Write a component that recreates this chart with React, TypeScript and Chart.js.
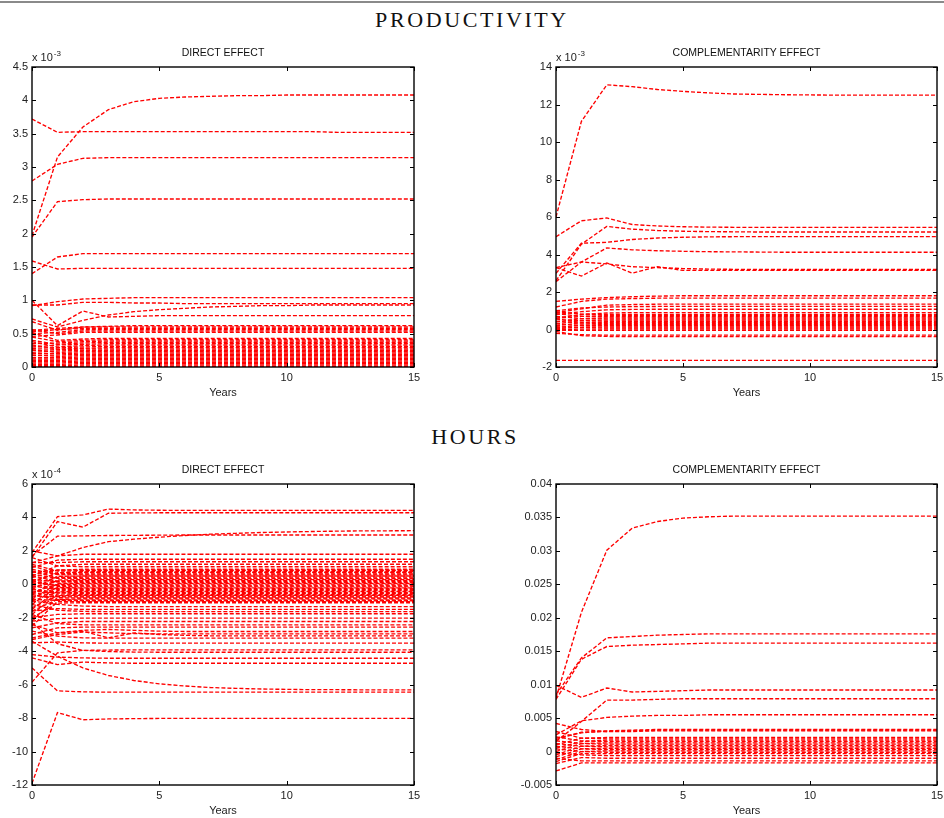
import React, { useEffect, useRef } from 'react';
import { Chart, registerables } from 'chart.js';
Chart.register(...registerables);

const years = [0, 1, 2, 3, 4, 5, 6, 7, 8, 9, 10, 11, 12, 13, 14, 15];

// PRODUCTIVITY – direct effect (x 10^-3)
const prodDirect: number[][] = [
  [1.97,3.15,3.60,3.86,3.98,4.03,4.05,4.06,4.07,4.07,4.08,4.08,4.08,4.08,4.08,4.08],
  [3.72,3.52,3.53,3.53,3.53,3.53,3.53,3.53,3.53,3.53,3.53,3.53,3.52,3.52,3.52,3.52],
  [2.79,3.04,3.13,3.14,3.14,3.14,3.14,3.14,3.14,3.14,3.14,3.14,3.14,3.14,3.14,3.14],
  [1.95,2.48,2.51,2.52,2.52,2.52,2.52,2.52,2.52,2.52,2.52,2.52,2.52,2.52,2.52,2.52],
  [1.59,1.47,1.48,1.48,1.48,1.48,1.48,1.48,1.48,1.48,1.48,1.48,1.48,1.48,1.48,1.48],
  [1.40,1.65,1.70,1.70,1.70,1.70,1.70,1.70,1.70,1.70,1.70,1.70,1.70,1.70,1.70,1.70],
  [0.92,0.98,1.02,1.03,1.04,1.04,1.04,1.04,1.04,1.04,1.04,1.04,1.04,1.04,1.04,1.04],
  [0.93,0.93,0.97,0.97,0.96,0.96,0.95,0.95,0.95,0.95,0.95,0.95,0.95,0.95,0.95,0.95],
  [0.72,0.60,0.70,0.78,0.83,0.86,0.88,0.90,0.91,0.92,0.92,0.93,0.93,0.93,0.93,0.93],
  [1.00,0.62,0.84,0.75,0.76,0.77,0.77,0.77,0.77,0.77,0.77,0.77,0.77,0.77,0.77,0.77],
  [0.68,0.55,0.60,0.61,0.62,0.62,0.62,0.62,0.62,0.62,0.62,0.62,0.62,0.62,0.62,0.62],
  [0.55,0.58,0.60,0.60,0.60,0.60,0.60,0.60,0.60,0.60,0.60,0.60,0.60,0.60,0.60,0.60],
  [0.53,0.56,0.58,0.58,0.58,0.58,0.58,0.58,0.58,0.58,0.58,0.58,0.58,0.58,0.58,0.58],
  [0.50,0.52,0.56,0.56,0.56,0.56,0.56,0.56,0.56,0.56,0.56,0.56,0.56,0.56,0.56,0.56],
  [0.56,0.50,0.54,0.54,0.54,0.54,0.54,0.54,0.54,0.54,0.54,0.54,0.54,0.54,0.54,0.54],
  [0.46,0.48,0.52,0.52,0.52,0.52,0.52,0.52,0.52,0.52,0.52,0.52,0.52,0.52,0.52,0.52],
  [0.52,0.40,0.42,0.43,0.43,0.43,0.43,0.43,0.43,0.43,0.43,0.43,0.43,0.43,0.43,0.43],
  [0.45,0.38,0.40,0.41,0.41,0.41,0.41,0.41,0.41,0.41,0.41,0.41,0.41,0.41,0.41,0.41],
  [0.35,0.36,0.38,0.39,0.39,0.39,0.39,0.39,0.39,0.39,0.39,0.39,0.39,0.39,0.39,0.39],
  [0.40,0.34,0.36,0.37,0.37,0.37,0.37,0.37,0.37,0.37,0.37,0.37,0.37,0.37,0.37,0.37],
  [0.30,0.33,0.34,0.35,0.35,0.35,0.35,0.35,0.35,0.35,0.35,0.35,0.35,0.35,0.35,0.35],
  [0.38,0.30,0.32,0.33,0.33,0.33,0.33,0.33,0.33,0.33,0.33,0.33,0.33,0.33,0.33,0.33],
  [0.28,0.29,0.30,0.31,0.31,0.31,0.31,0.31,0.31,0.31,0.31,0.31,0.31,0.31,0.31,0.31],
  [0.33,0.27,0.28,0.29,0.29,0.29,0.29,0.29,0.29,0.29,0.29,0.29,0.29,0.29,0.29,0.29],
  [0.25,0.26,0.27,0.27,0.27,0.27,0.27,0.27,0.27,0.27,0.27,0.27,0.27,0.27,0.27,0.27],
  [0.22,0.24,0.25,0.25,0.25,0.25,0.25,0.25,0.25,0.25,0.25,0.25,0.25,0.25,0.25,0.25],
  [0.26,0.22,0.23,0.23,0.23,0.23,0.23,0.23,0.23,0.23,0.23,0.23,0.23,0.23,0.23,0.23],
  [0.20,0.20,0.21,0.21,0.21,0.21,0.21,0.21,0.21,0.21,0.21,0.21,0.21,0.21,0.21,0.21],
  [0.17,0.18,0.19,0.19,0.19,0.19,0.19,0.19,0.19,0.19,0.19,0.19,0.19,0.19,0.19,0.19],
  [0.18,0.16,0.17,0.17,0.17,0.17,0.17,0.17,0.17,0.17,0.17,0.17,0.17,0.17,0.17,0.17],
  [0.14,0.14,0.15,0.15,0.15,0.15,0.15,0.15,0.15,0.15,0.15,0.15,0.15,0.15,0.15,0.15],
  [0.12,0.12,0.13,0.13,0.13,0.13,0.13,0.13,0.13,0.13,0.13,0.13,0.13,0.13,0.13,0.13],
  [0.10,0.10,0.11,0.11,0.11,0.11,0.11,0.11,0.11,0.11,0.11,0.11,0.11,0.11,0.11,0.11],
  [0.08,0.08,0.09,0.09,0.09,0.09,0.09,0.09,0.09,0.09,0.09,0.09,0.09,0.09,0.09,0.09],
  [0.06,0.06,0.07,0.07,0.07,0.07,0.07,0.07,0.07,0.07,0.07,0.07,0.07,0.07,0.07,0.07],
  [0.04,0.04,0.05,0.05,0.05,0.05,0.05,0.05,0.05,0.05,0.05,0.05,0.05,0.05,0.05,0.05],
  [0.02,0.02,0.03,0.03,0.03,0.03,0.03,0.03,0.03,0.03,0.03,0.03,0.03,0.03,0.03,0.03],
  [0.01,0.01,0.01,0.01,0.01,0.01,0.01,0.01,0.01,0.01,0.01,0.01,0.01,0.01,0.01,0.01],
];

// PRODUCTIVITY – complementarity effect (x 10^-3)
const prodCompl: number[][] = [
  [6.00,11.10,13.05,12.95,12.80,12.70,12.62,12.56,12.54,12.52,12.51,12.50,12.50,12.50,12.50,12.50],
  [4.95,5.80,5.95,5.60,5.52,5.48,5.46,5.45,5.45,5.45,5.45,5.45,5.45,5.45,5.45,5.45],
  [2.60,4.55,5.50,5.35,5.28,5.24,5.22,5.21,5.20,5.20,5.20,5.20,5.20,5.20,5.20,5.20],
  [3.00,4.60,4.65,4.80,4.88,4.92,4.94,4.95,4.95,4.95,4.95,4.95,4.95,4.95,4.95,4.95],
  [3.30,3.60,4.35,4.25,4.20,4.17,4.15,4.14,4.13,4.12,4.12,4.12,4.12,4.12,4.12,4.12],
  [3.30,2.85,3.55,3.00,3.35,3.15,3.15,3.15,3.15,3.15,3.15,3.15,3.15,3.15,3.15,3.15],
  [2.55,3.60,3.50,3.35,3.30,3.25,3.22,3.21,3.20,3.20,3.20,3.20,3.20,3.20,3.20,3.20],
  [1.50,1.62,1.70,1.75,1.78,1.80,1.80,1.80,1.80,1.80,1.80,1.80,1.80,1.80,1.80,1.80],
  [1.20,1.50,1.62,1.65,1.67,1.67,1.67,1.67,1.67,1.67,1.67,1.67,1.67,1.67,1.67,1.67],
  [0.90,1.10,1.30,1.33,1.35,1.35,1.35,1.35,1.35,1.35,1.35,1.35,1.35,1.35,1.35,1.35],
  [1.00,1.15,1.20,1.22,1.23,1.23,1.23,1.23,1.23,1.23,1.23,1.23,1.23,1.23,1.23,1.23],
  [0.80,0.95,1.05,1.07,1.08,1.08,1.08,1.08,1.08,1.08,1.08,1.08,1.08,1.08,1.08,1.08],
  [0.60,0.80,0.88,0.90,0.90,0.90,0.90,0.90,0.90,0.90,0.90,0.90,0.90,0.90,0.90,0.90],
  [0.95,0.82,0.80,0.80,0.80,0.80,0.80,0.80,0.80,0.80,0.80,0.80,0.80,0.80,0.80,0.80],
  [0.60,0.70,0.74,0.74,0.74,0.74,0.74,0.74,0.74,0.74,0.74,0.74,0.74,0.74,0.74,0.74],
  [0.85,0.70,0.68,0.68,0.68,0.68,0.68,0.68,0.68,0.68,0.68,0.68,0.68,0.68,0.68,0.68],
  [0.40,0.58,0.62,0.62,0.62,0.62,0.62,0.62,0.62,0.62,0.62,0.62,0.62,0.62,0.62,0.62],
  [0.70,0.58,0.56,0.56,0.56,0.56,0.56,0.56,0.56,0.56,0.56,0.56,0.56,0.56,0.56,0.56],
  [0.30,0.48,0.50,0.50,0.50,0.50,0.50,0.50,0.50,0.50,0.50,0.50,0.50,0.50,0.50,0.50],
  [0.55,0.46,0.44,0.44,0.44,0.44,0.44,0.44,0.44,0.44,0.44,0.44,0.44,0.44,0.44,0.44],
  [0.20,0.36,0.38,0.38,0.38,0.38,0.38,0.38,0.38,0.38,0.38,0.38,0.38,0.38,0.38,0.38],
  [0.45,0.34,0.32,0.32,0.32,0.32,0.32,0.32,0.32,0.32,0.32,0.32,0.32,0.32,0.32,0.32],
  [0.10,0.24,0.26,0.26,0.26,0.26,0.26,0.26,0.26,0.26,0.26,0.26,0.26,0.26,0.26,0.26],
  [0.30,0.22,0.20,0.20,0.20,0.20,0.20,0.20,0.20,0.20,0.20,0.20,0.20,0.20,0.20,0.20],
  [0.05,0.13,0.14,0.14,0.14,0.14,0.14,0.14,0.14,0.14,0.14,0.14,0.14,0.14,0.14,0.14],
  [0.15,0.10,0.08,0.08,0.08,0.08,0.08,0.08,0.08,0.08,0.08,0.08,0.08,0.08,0.08,0.08],
  [0.00,0.02,0.02,0.02,0.02,0.02,0.02,0.02,0.02,0.02,0.02,0.02,0.02,0.02,0.02,0.02],
  [-0.05,-0.05,-0.05,-0.05,-0.05,-0.05,-0.05,-0.05,-0.05,-0.05,-0.05,-0.05,-0.05,-0.05,-0.05,-0.05],
  [-0.20,-0.28,-0.30,-0.30,-0.30,-0.30,-0.30,-0.30,-0.30,-0.30,-0.30,-0.30,-0.30,-0.30,-0.30,-0.30],
  [-0.10,-0.33,-0.37,-0.38,-0.38,-0.38,-0.38,-0.38,-0.38,-0.38,-0.38,-0.38,-0.38,-0.38,-0.38,-0.38],
  [-1.65,-1.65,-1.65,-1.65,-1.65,-1.65,-1.65,-1.65,-1.65,-1.65,-1.65,-1.65,-1.65,-1.65,-1.65,-1.65],
];

// HOURS – direct effect (x 10^-4)
const hoursDirect: number[][] = [
  [1.90,4.05,4.15,4.50,4.45,4.43,4.42,4.42,4.42,4.42,4.42,4.42,4.42,4.42,4.42,4.42],
  [1.60,3.75,3.42,4.25,4.27,4.28,4.28,4.28,4.28,4.28,4.28,4.28,4.28,4.28,4.28,4.28],
  [1.70,2.88,2.90,2.92,2.93,2.94,2.95,2.95,2.95,2.95,2.95,2.95,2.95,2.95,2.95,2.95],
  [1.30,1.70,2.20,2.55,2.70,2.82,2.92,3.00,3.05,3.10,3.13,3.16,3.18,3.20,3.20,3.21],
  [2.00,1.70,1.80,1.80,1.80,1.80,1.80,1.80,1.80,1.80,1.80,1.80,1.80,1.80,1.80,1.80],
  [1.00,1.45,1.50,1.50,1.50,1.50,1.50,1.50,1.50,1.50,1.50,1.50,1.50,1.50,1.50,1.50],
  [1.30,1.30,1.35,1.35,1.35,1.35,1.35,1.35,1.35,1.35,1.35,1.35,1.35,1.35,1.35,1.35],
  [0.50,1.10,1.20,1.20,1.20,1.20,1.20,1.20,1.20,1.20,1.20,1.20,1.20,1.20,1.20,1.20],
  [1.60,1.10,1.05,1.05,1.05,1.05,1.05,1.05,1.05,1.05,1.05,1.05,1.05,1.05,1.05,1.05],
  [0.40,0.85,0.90,0.90,0.90,0.90,0.90,0.90,0.90,0.90,0.90,0.90,0.90,0.90,0.90,0.90],
  [0.70,0.86,0.84,0.84,0.84,0.84,0.84,0.84,0.84,0.84,0.84,0.84,0.84,0.84,0.84,0.84],
  [1.20,0.80,0.78,0.78,0.78,0.78,0.78,0.78,0.78,0.78,0.78,0.78,0.78,0.78,0.78,0.78],
  [0.10,0.70,0.72,0.72,0.72,0.72,0.72,0.72,0.72,0.72,0.72,0.72,0.72,0.72,0.72,0.72],
  [0.20,0.65,0.67,0.67,0.67,0.67,0.67,0.67,0.67,0.67,0.67,0.67,0.67,0.67,0.67,0.67],
  [1.10,0.63,0.61,0.61,0.61,0.61,0.61,0.61,0.61,0.61,0.61,0.61,0.61,0.61,0.61,0.61],
  [0.90,0.58,0.56,0.56,0.56,0.56,0.56,0.56,0.56,0.56,0.56,0.56,0.56,0.56,0.56,0.56],
  [-0.30,0.48,0.50,0.50,0.50,0.50,0.50,0.50,0.50,0.50,0.50,0.50,0.50,0.50,0.50,0.50],
  [0.00,0.42,0.45,0.45,0.45,0.45,0.45,0.45,0.45,0.45,0.45,0.45,0.45,0.45,0.45,0.45],
  [0.80,0.40,0.39,0.39,0.39,0.39,0.39,0.39,0.39,0.39,0.39,0.39,0.39,0.39,0.39,0.39],
  [0.60,0.36,0.34,0.34,0.34,0.34,0.34,0.34,0.34,0.34,0.34,0.34,0.34,0.34,0.34,0.34],
  [-0.60,0.26,0.28,0.28,0.28,0.28,0.28,0.28,0.28,0.28,0.28,0.28,0.28,0.28,0.28,0.28],
  [-0.20,0.20,0.23,0.23,0.23,0.23,0.23,0.23,0.23,0.23,0.23,0.23,0.23,0.23,0.23,0.23],
  [0.50,0.18,0.17,0.17,0.17,0.17,0.17,0.17,0.17,0.17,0.17,0.17,0.17,0.17,0.17,0.17],
  [0.30,0.14,0.12,0.12,0.12,0.12,0.12,0.12,0.12,0.12,0.12,0.12,0.12,0.12,0.12,0.12],
  [-0.90,0.05,0.06,0.06,0.06,0.06,0.06,0.06,0.06,0.06,0.06,0.06,0.06,0.06,0.06,0.06],
  [-0.50,0.00,0.01,0.01,0.01,0.01,0.01,0.01,0.01,0.01,0.01,0.01,0.01,0.01,0.01,0.01],
  [0.20,-0.04,-0.05,-0.05,-0.05,-0.05,-0.05,-0.05,-0.05,-0.05,-0.05,-0.05,-0.05,-0.05,-0.05,-0.05],
  [0.10,-0.08,-0.10,-0.10,-0.10,-0.10,-0.10,-0.10,-0.10,-0.10,-0.10,-0.10,-0.10,-0.10,-0.10,-0.10],
  [-1.20,-0.14,-0.15,-0.15,-0.15,-0.15,-0.15,-0.15,-0.15,-0.15,-0.15,-0.15,-0.15,-0.15,-0.15,-0.15],
  [-0.80,-0.20,-0.21,-0.21,-0.21,-0.21,-0.21,-0.21,-0.21,-0.21,-0.21,-0.21,-0.21,-0.21,-0.21,-0.21],
  [0.00,-0.25,-0.26,-0.26,-0.26,-0.26,-0.26,-0.26,-0.26,-0.26,-0.26,-0.26,-0.26,-0.26,-0.26,-0.26],
  [-0.10,-0.30,-0.32,-0.32,-0.32,-0.32,-0.32,-0.32,-0.32,-0.32,-0.32,-0.32,-0.32,-0.32,-0.32,-0.32],
  [-1.50,-0.36,-0.37,-0.37,-0.37,-0.37,-0.37,-0.37,-0.37,-0.37,-0.37,-0.37,-0.37,-0.37,-0.37,-0.37],
  [-1.00,-0.45,-0.43,-0.43,-0.43,-0.43,-0.43,-0.43,-0.43,-0.43,-0.43,-0.43,-0.43,-0.43,-0.43,-0.43],
  [-0.30,-0.47,-0.48,-0.48,-0.48,-0.48,-0.48,-0.48,-0.48,-0.48,-0.48,-0.48,-0.48,-0.48,-0.48,-0.48],
  [-0.40,-0.52,-0.54,-0.54,-0.54,-0.54,-0.54,-0.54,-0.54,-0.54,-0.54,-0.54,-0.54,-0.54,-0.54,-0.54],
  [-1.80,-0.58,-0.60,-0.60,-0.60,-0.60,-0.60,-0.60,-0.60,-0.60,-0.60,-0.60,-0.60,-0.60,-0.60,-0.60],
  [-1.40,-0.68,-0.65,-0.65,-0.65,-0.65,-0.65,-0.65,-0.65,-0.65,-0.65,-0.65,-0.65,-0.65,-0.65,-0.65],
  [-0.50,-0.69,-0.70,-0.70,-0.70,-0.70,-0.70,-0.70,-0.70,-0.70,-0.70,-0.70,-0.70,-0.70,-0.70,-0.70],
  [-0.70,-0.74,-0.76,-0.76,-0.76,-0.76,-0.76,-0.76,-0.76,-0.76,-0.76,-0.76,-0.76,-0.76,-0.76,-0.76],
  [-2.20,-0.80,-0.82,-0.82,-0.82,-0.82,-0.82,-0.82,-0.82,-0.82,-0.82,-0.82,-0.82,-0.82,-0.82,-0.82],
  [-1.60,-0.90,-0.87,-0.87,-0.87,-0.87,-0.87,-0.87,-0.87,-0.87,-0.87,-0.87,-0.87,-0.87,-0.87,-0.87],
  [-0.60,-0.92,-0.93,-0.93,-0.93,-0.93,-0.93,-0.93,-0.93,-0.93,-0.93,-0.93,-0.93,-0.93,-0.93,-0.93],
  [-0.90,-0.96,-0.98,-0.98,-0.98,-0.98,-0.98,-0.98,-0.98,-0.98,-0.98,-0.98,-0.98,-0.98,-0.98,-0.98],
  [-2.50,-1.02,-1.04,-1.04,-1.04,-1.04,-1.04,-1.04,-1.04,-1.04,-1.04,-1.04,-1.04,-1.04,-1.04,-1.04],
  [-2.00,-1.12,-1.10,-1.10,-1.10,-1.10,-1.10,-1.10,-1.10,-1.10,-1.10,-1.10,-1.10,-1.10,-1.10,-1.10],
  [-1.00,-1.20,-1.30,-1.33,-1.33,-1.33,-1.33,-1.33,-1.33,-1.33,-1.33,-1.33,-1.33,-1.33,-1.33,-1.33],
  [-1.60,-1.45,-1.50,-1.50,-1.50,-1.50,-1.50,-1.50,-1.50,-1.50,-1.50,-1.50,-1.50,-1.50,-1.50,-1.50],
  [-1.20,-1.55,-1.62,-1.63,-1.63,-1.63,-1.63,-1.63,-1.63,-1.63,-1.63,-1.63,-1.63,-1.63,-1.63,-1.63],
  [-2.00,-1.80,-1.76,-1.76,-1.76,-1.76,-1.76,-1.76,-1.76,-1.76,-1.76,-1.76,-1.76,-1.76,-1.76,-1.76],
  [-2.20,-2.05,-2.02,-2.02,-2.02,-2.02,-2.02,-2.02,-2.02,-2.02,-2.02,-2.02,-2.02,-2.02,-2.02,-2.02],
  [-2.60,-2.30,-2.22,-2.22,-2.22,-2.22,-2.22,-2.22,-2.22,-2.22,-2.22,-2.22,-2.22,-2.22,-2.22,-2.22],
  [-1.80,-2.35,-2.42,-2.42,-2.42,-2.42,-2.42,-2.42,-2.42,-2.42,-2.42,-2.42,-2.42,-2.42,-2.42,-2.42],
  [-3.00,-2.60,-2.56,-2.56,-2.56,-2.56,-2.56,-2.56,-2.56,-2.56,-2.56,-2.56,-2.56,-2.56,-2.56,-2.56],
  [-2.40,-2.90,-2.75,-2.70,-2.75,-2.80,-2.82,-2.82,-2.82,-2.82,-2.82,-2.82,-2.82,-2.82,-2.82,-2.82],
  [-3.30,-3.00,-2.85,-2.90,-2.95,-2.96,-2.96,-2.96,-2.96,-2.96,-2.96,-2.96,-2.96,-2.96,-2.96,-2.96],
  [-3.20,-2.90,-2.80,-3.20,-2.90,-3.00,-3.05,-3.08,-3.08,-3.08,-3.08,-3.08,-3.08,-3.08,-3.08,-3.08],
  [-2.80,-3.10,-3.20,-3.22,-3.22,-3.22,-3.22,-3.22,-3.22,-3.22,-3.22,-3.22,-3.22,-3.22,-3.22,-3.22],
  [-3.50,-3.45,-3.50,-3.52,-3.52,-3.52,-3.52,-3.52,-3.52,-3.52,-3.52,-3.52,-3.52,-3.52,-3.52,-3.52],
  [-2.30,-3.55,-3.95,-4.02,-4.05,-4.06,-4.06,-4.06,-4.06,-4.06,-4.06,-4.06,-4.06,-4.06,-4.06,-4.06],
  [-5.85,-4.10,-3.95,-3.93,-3.92,-3.92,-3.92,-3.92,-3.92,-3.92,-3.92,-3.92,-3.92,-3.92,-3.92,-3.92],
  [-4.20,-4.35,-4.40,-4.42,-4.42,-4.42,-4.42,-4.42,-4.42,-4.42,-4.42,-4.42,-4.42,-4.42,-4.42,-4.42],
  [-4.40,-4.80,-4.65,-4.70,-4.72,-4.72,-4.72,-4.72,-4.72,-4.72,-4.72,-4.72,-4.72,-4.72,-4.72,-4.72],
  [-3.40,-4.30,-5.00,-5.45,-5.75,-5.95,-6.08,-6.17,-6.22,-6.26,-6.28,-6.30,-6.30,-6.31,-6.31,-6.31],
  [-5.00,-6.37,-6.43,-6.45,-6.45,-6.45,-6.45,-6.45,-6.45,-6.45,-6.45,-6.45,-6.45,-6.45,-6.45,-6.45],
  [-11.90,-7.67,-8.10,-8.05,-8.03,-8.02,-8.02,-8.02,-8.02,-8.02,-8.02,-8.02,-8.02,-8.02,-8.02,-8.02],
];

// HOURS – complementarity effect
const hoursCompl: number[][] = [
  [0.0080,0.0208,0.0301,0.0334,0.0344,0.0349,0.0351,0.0352,0.0352,0.0352,0.0352,0.0352,0.0352,0.0352,0.0352,0.0352],
  [0.0085,0.0140,0.0170,0.0172,0.0174,0.0175,0.0176,0.0176,0.0176,0.0176,0.0176,0.0176,0.0176,0.0176,0.0176,0.0176],
  [0.0078,0.0138,0.0157,0.0159,0.0160,0.0161,0.0162,0.0162,0.0162,0.0162,0.0162,0.0162,0.0162,0.0162,0.0162,0.0162],
  [0.0099,0.0081,0.0095,0.0089,0.0090,0.0091,0.0092,0.0092,0.0092,0.0092,0.0092,0.0092,0.0092,0.0092,0.0092,0.0092],
  [0.0015,0.0045,0.0077,0.0077,0.0078,0.0079,0.0079,0.0079,0.0079,0.0079,0.0079,0.0079,0.0079,0.0079,0.0079,0.0079],
  [0.0025,0.0046,0.0051,0.0053,0.0054,0.0054,0.0055,0.0055,0.0055,0.0055,0.0055,0.0055,0.0055,0.0055,0.0055,0.0055],
  [0.0042,0.0033,0.0030,0.0030,0.0031,0.0031,0.0031,0.0031,0.0031,0.0031,0.0031,0.0031,0.0031,0.0031,0.0031,0.0031],
  [0.0020,0.0028,0.0031,0.0032,0.0033,0.0033,0.0033,0.0033,0.0033,0.0033,0.0033,0.0033,0.0033,0.0033,0.0033,0.0033],
  [0.0018,0.0029,0.0030,0.0031,0.0032,0.0032,0.0032,0.0032,0.0032,0.0032,0.0032,0.0032,0.0032,0.0032,0.0032,0.0032],
  [0.0010,0.0020,0.0021,0.0021,0.0021,0.0021,0.0021,0.0021,0.0021,0.0021,0.0021,0.0021,0.0021,0.0021,0.0021,0.0021],
  [0.0030,0.0020,0.0019,0.0019,0.0019,0.0019,0.0019,0.0019,0.0019,0.0019,0.0019,0.0019,0.0019,0.0019,0.0019,0.0019],
  [0.0005,0.0015,0.0017,0.0017,0.0017,0.0017,0.0017,0.0017,0.0017,0.0017,0.0017,0.0017,0.0017,0.0017,0.0017,0.0017],
  [0.0022,0.0016,0.0015,0.0015,0.0015,0.0015,0.0015,0.0015,0.0015,0.0015,0.0015,0.0015,0.0015,0.0015,0.0015,0.0015],
  [0.0000,0.0012,0.0013,0.0013,0.0013,0.0013,0.0013,0.0013,0.0013,0.0013,0.0013,0.0013,0.0013,0.0013,0.0013,0.0013],
  [0.0016,0.0012,0.0011,0.0011,0.0011,0.0011,0.0011,0.0011,0.0011,0.0011,0.0011,0.0011,0.0011,0.0011,0.0011,0.0011],
  [-0.0005,0.0008,0.0009,0.0009,0.0009,0.0009,0.0009,0.0009,0.0009,0.0009,0.0009,0.0009,0.0009,0.0009,0.0009,0.0009],
  [0.0012,0.0008,0.0007,0.0007,0.0007,0.0007,0.0007,0.0007,0.0007,0.0007,0.0007,0.0007,0.0007,0.0007,0.0007,0.0007],
  [-0.0008,0.0004,0.0005,0.0005,0.0005,0.0005,0.0005,0.0005,0.0005,0.0005,0.0005,0.0005,0.0005,0.0005,0.0005,0.0005],
  [0.0008,0.0004,0.0003,0.0003,0.0003,0.0003,0.0003,0.0003,0.0003,0.0003,0.0003,0.0003,0.0003,0.0003,0.0003,0.0003],
  [-0.0012,0.0000,0.0001,0.0001,0.0001,0.0001,0.0001,0.0001,0.0001,0.0001,0.0001,0.0001,0.0001,0.0001,0.0001,0.0001],
  [0.0004,0.0000,-0.0001,-0.0001,-0.0001,-0.0001,-0.0001,-0.0001,-0.0001,-0.0001,-0.0001,-0.0001,-0.0001,-0.0001,-0.0001,-0.0001],
  [-0.0015,-0.0003,-0.0003,-0.0003,-0.0003,-0.0003,-0.0003,-0.0003,-0.0003,-0.0003,-0.0003,-0.0003,-0.0003,-0.0003,-0.0003,-0.0003],
  [-0.0002,-0.0005,-0.0006,-0.0006,-0.0006,-0.0006,-0.0006,-0.0006,-0.0006,-0.0006,-0.0006,-0.0006,-0.0006,-0.0006,-0.0006,-0.0006],
  [-0.0018,-0.0009,-0.0010,-0.0010,-0.0010,-0.0010,-0.0010,-0.0010,-0.0010,-0.0010,-0.0010,-0.0010,-0.0010,-0.0010,-0.0010,-0.0010],
  [-0.0010,-0.0014,-0.0014,-0.0014,-0.0014,-0.0014,-0.0014,-0.0014,-0.0014,-0.0014,-0.0014,-0.0014,-0.0014,-0.0014,-0.0014,-0.0014],
  [-0.0029,-0.0017,-0.0017,-0.0017,-0.0017,-0.0017,-0.0017,-0.0017,-0.0017,-0.0017,-0.0017,-0.0017,-0.0017,-0.0017,-0.0017,-0.0017],
];

const SANS = '"Liberation Sans", Arial, Helvetica, sans-serif';
const SERIF = '"Liberation Serif", "Times New Roman", serif';

type PanelDef = {
  data: number[][];
  left: number; top: number; width: number; height: number;
  yMin: number; yMax: number; yStep: number;
  title: string; exponent?: string; padL: number;
};

const panels: PanelDef[] = [
  { data: prodDirect, left: 32, top: 67, width: 382, height: 300, yMin: 0, yMax: 4.5, yStep: 0.5, title: 'DIRECT EFFECT', exponent: '-3', padL: 32 },
  { data: prodCompl, left: 556, top: 67, width: 381, height: 300, yMin: -2, yMax: 14, yStep: 2, title: 'COMPLEMENTARITY EFFECT', exponent: '-3', padL: 32 },
  { data: hoursDirect, left: 32, top: 484, width: 382, height: 301, yMin: -12, yMax: 6, yStep: 2, title: 'DIRECT EFFECT', exponent: '-4', padL: 32 },
  { data: hoursCompl, left: 556, top: 484, width: 381, height: 301, yMin: -0.005, yMax: 0.04, yStep: 0.005, title: 'COMPLEMENTARITY EFFECT', padL: 40 },
];

const PAD_T = 12, PAD_R = 14, PAD_B = 22;

const framePlugin = {
  id: 'matlabFrame',
  afterDatasetsDraw(chart: any) {
    const { ctx, chartArea: a } = chart;
    const xs = chart.scales.x, ys = chart.scales.y;
    ctx.save();
    ctx.strokeStyle = '#000';
    ctx.lineWidth = 1;
    ctx.beginPath();
    xs.ticks.forEach((t: any) => {
      const p = Math.round(xs.getPixelForValue(t.value)) + 0.5;
      ctx.moveTo(p, a.bottom); ctx.lineTo(p, a.bottom - 4);
      ctx.moveTo(p, a.top); ctx.lineTo(p, a.top + 4);
    });
    ys.ticks.forEach((t: any) => {
      const p = Math.round(ys.getPixelForValue(t.value)) + 0.5;
      ctx.moveTo(a.left, p); ctx.lineTo(a.left + 4, p);
      ctx.moveTo(a.right, p); ctx.lineTo(a.right - 4, p);
    });
    ctx.stroke();
    ctx.lineWidth = 1.4;
    ctx.strokeRect(a.left, a.top, a.right - a.left, a.bottom - a.top);
    ctx.restore();
  },
};

function fmt(v: any) {
  return String(Number(Number(v).toFixed(4)));
}

function Panel({ p }: { p: PanelDef }) {
  const ref = useRef<HTMLCanvasElement>(null);
  useEffect(() => {
    if (!ref.current) return;
    const chart = new Chart(ref.current, {
      type: 'line',
      data: {
        datasets: p.data.map((s) => ({
          data: years.map((yr, i) => ({ x: yr, y: s[i] })),
          borderColor: 'rgb(255,0,0)',
          borderWidth: 1.35,
          borderDash: [4, 2],
          pointRadius: 0,
          tension: 0,
          fill: false,
        })),
      },
      options: {
        animation: false,
        responsive: true,
        maintainAspectRatio: false,
        events: [],
        layout: { padding: { left: 0, top: PAD_T, right: PAD_R, bottom: 0 } },
        plugins: { legend: { display: false }, tooltip: { enabled: false }, title: { display: false } },
        scales: {
          x: {
            type: 'linear', min: 0, max: 15,
            grid: { display: false, drawTicks: false },
            border: { display: false },
            ticks: { stepSize: 5, padding: 4, color: '#222', font: { family: SANS, size: 11 }, callback: fmt, maxRotation: 0 },
            afterFit: (s: any) => { s.height = PAD_B; },
          },
          y: {
            type: 'linear', min: p.yMin, max: p.yMax,
            grid: { display: false, drawTicks: false },
            border: { display: false },
            ticks: { stepSize: p.yStep, padding: 4, color: '#222', font: { family: SANS, size: 11 }, callback: fmt },
            afterFit: (s: any) => { s.width = p.padL; },
          },
        },
      },
      plugins: [framePlugin],
    } as any);
    return () => chart.destroy();
  }, [p]);

  const W = p.padL + p.width + PAD_R;
  const H = PAD_T + p.height + PAD_B;
  return (
    <>
      <div style={{ position: 'absolute', left: p.left - p.padL, top: p.top - PAD_T, width: W, height: H }}>
        <canvas ref={ref} />
      </div>
      <div style={{ position: 'absolute', left: p.left, top: p.top - 21, width: p.width, textAlign: 'center', font: `10.5px ${SANS}`, lineHeight: '12px', color: '#111', whiteSpace: 'nowrap' }}>
        {p.title}
      </div>
      {p.exponent && (
        <div style={{ position: 'absolute', left: p.left, top: p.top - 16, font: `11px ${SANS}`, lineHeight: '12px', color: '#222', whiteSpace: 'nowrap' }}>
          x 10<span style={{ fontSize: '8px', position: 'relative', top: '-5px', marginLeft: '1px' }}>{p.exponent}</span>
        </div>
      )}
      <div style={{ position: 'absolute', left: p.left, top: p.top + p.height + 19, width: p.width, textAlign: 'center', font: `11px ${SANS}`, lineHeight: '12px', color: '#222' }}>
        Years
      </div>
    </>
  );
}

export default function App() {
  return (
    <div style={{ position: 'absolute', left: 0, top: 0, width: 944, height: 818, background: '#fff', overflow: 'hidden' }}>
      <div style={{ position: 'absolute', left: 0, top: 1, width: 944, height: 2, background: '#8a8a8a' }} />
      <div style={{ position: 'absolute', left: 0, top: 7, width: 944, textAlign: 'center', font: `22px ${SERIF}`, letterSpacing: '2.6px', lineHeight: '26px', color: '#111' }}>
        PRODUCTIVITY
      </div>
      <div style={{ position: 'absolute', left: 0, top: 424, width: 950, textAlign: 'center', font: `22px ${SERIF}`, letterSpacing: '2.6px', lineHeight: '26px', color: '#111' }}>
        HOURS
      </div>
      {panels.map((p, i) => <Panel key={i} p={p} />)}
    </div>
  );
}
